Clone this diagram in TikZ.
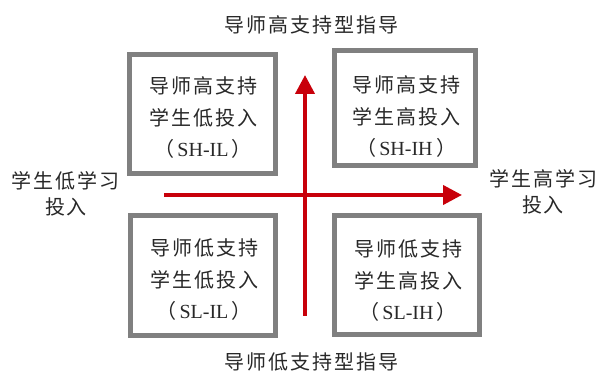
\documentclass[tikz,border=0pt]{standalone}
\usepackage{fontspec}
\setmainfont{Liberation Serif}
\newfontfamily\cjk[LetterSpace=10]{Noto Sans CJK SC}
\usetikzlibrary{arrows.meta}
\definecolor{boxgray}{RGB}{128,128,128}
\definecolor{axisred}{RGB}{200,0,10}
\definecolor{txtgray}{RGB}{40,40,40}
\begin{document}
\begin{tikzpicture}[x=1pt,y=-1pt,
  quad/.style={draw=boxgray, line width=5pt, inner sep=0pt, fill=none},
  lbl/.style={font={\fontsize{20}{26}\cjk}, align=center, inner sep=0pt, text=txtgray},
  inbox/.style={font={\fontsize{20}{31.5}\cjk}, align=center, inner sep=0pt, text=txtgray},
  axis/.style={draw=axisred, line width=4pt, -{Triangle[length=19pt,width=19pt]}}]
\useasboundingbox (0,0) rectangle (597,371);
\fill[white] (0,0) rectangle (597,371);

% boxes
\node[quad, minimum width=146pt, minimum height=119pt] (tl) at (202.5,114) {};
\node[quad, minimum width=141pt, minimum height=115pt] (tr) at (405,108) {};
\node[quad, minimum width=145pt, minimum height=120pt] (bl) at (203,275.5) {};
\node[quad, minimum width=145pt, minimum height=119pt] (br) at (407,275) {};

% box texts
\node[inbox] (tlt) at (203,118) {导师高支持\\学生低投入\\（{\rmfamily\fontsize{20}{31.5}\selectfont\,SH-IL\,}）};
\node[inbox] (trt) at (406,117) {导师高支持\\学生高投入\\（{\rmfamily\fontsize{20}{31.5}\selectfont\,SH-IH\,}）};
\node[inbox] (blt) at (204,280) {导师低支持\\学生低投入\\（{\rmfamily\fontsize{20}{31.5}\selectfont\,SL-IL\,}）};
\node[inbox] (brt) at (408,281) {导师低支持\\学生高投入\\（{\rmfamily\fontsize{20}{31.5}\selectfont\,SL-IH\,}）};

% axis labels
\node[lbl] (top) at (311,25) {导师高支持型指导};
\node[lbl] (bot) at (311,362) {导师低支持型指导};
\node[lbl] (left) at (66,194) {学生低学习\\投入};
\node[lbl] (right) at (543,192) {学生高学习\\投入};

% axes
\coordinate (hs) at (164,195);
\coordinate (he) at (462,195);
\coordinate (vs) at (305,316);
\coordinate (ve) at (305,75);
\draw[axis] (hs) -- (he);
\draw[axis] (vs) -- (ve);
\end{tikzpicture}
\end{document}
